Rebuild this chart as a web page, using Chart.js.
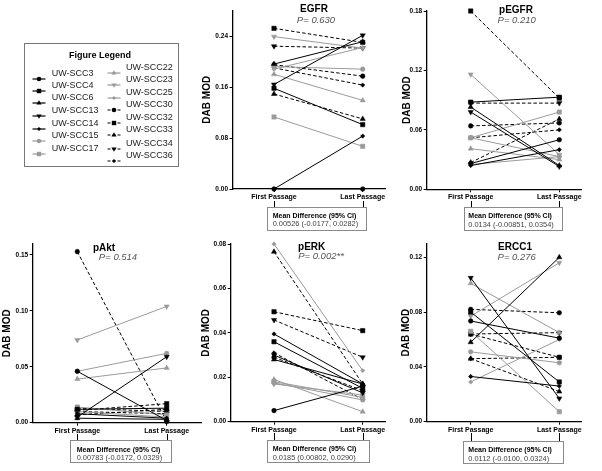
<!DOCTYPE html>
<html><head><meta charset="utf-8">
<script src="https://cdn.jsdelivr.net/npm/chart.js@4.4.1/dist/chart.umd.min.js"></script>
<style>
body{margin:0;width:602px;height:471px;background:#fff;position:relative;overflow:hidden;font-family:"Liberation Sans",Arial,sans-serif;color:#000;}
.panel{position:absolute;}
.txt{filter:grayscale(1);}
.ttl{position:absolute;font-weight:bold;font-size:10px;transform:translate(-50%,-50%);white-space:nowrap;line-height:1;}
.pv{position:absolute;font-style:italic;font-size:9.5px;color:#555;transform:translate(-50%,-50%);white-space:nowrap;line-height:1;}
.box{position:absolute;border:1px solid #8a8a8a;box-sizing:border-box;background:#fff;}
.bl1{position:absolute;font-weight:bold;font-size:7px;white-space:nowrap;line-height:1;transform:translateY(-50%);}
.bl2{position:absolute;font-size:7.4px;color:#444;white-space:nowrap;line-height:1;transform:translateY(-50%);}
.conn{position:absolute;width:1px;background:#000;}
.leg{position:absolute;border:1px solid #777;box-sizing:border-box;}
.legt{position:absolute;font-weight:bold;font-size:9px;transform:translate(-50%,-50%);white-space:nowrap;line-height:1;}
.legi{position:absolute;font-size:9px;color:#222;white-space:nowrap;line-height:1;transform:translateY(-50%);}
.legs{position:absolute;}
</style>
</head><body>
<script>
// ---------- DATA ----------
const cellLines = ['UW-SCC3','UW-SCC4','UW-SCC6','UW-SCC13','UW-SCC14','UW-SCC15','UW-SCC17','UW-SCC22','UW-SCC23','UW-SCC25','UW-SCC30','UW-SCC32','UW-SCC33','UW-SCC34','UW-SCC36'];
const passages = ['First Passage','Last Passage'];

const egfrFirst  = [0.000,0.158,0.196,0.164,0.000,0.192,0.113,0.180,0.239,0.188,0.195,0.252,0.149,0.224,0.190];
const egfrLast   = [0.000,0.101,0.231,0.241,0.083,0.188,0.067,0.139,0.221,0.222,0.177,0.230,0.110,0.221,0.163];

const pegfrFirst = [0.026,0.088,0.083,0.078,0.024,0.052,0.052,0.041,0.116,0.025,0.064,0.180,0.027,0.087,0.052];
const pegfrLast  = [0.050,0.093,0.024,0.023,0.040,0.033,0.078,0.030,0.035,0.033,0.067,0.092,0.071,0.087,0.060];

const paktFirst  = [0.046,0.012,0.004,0.005,0.008,0.046,0.014,0.039,0.074,0.010,0.153,0.011,0.007,0.010,0.013];
const paktLast   = [0.002,0.013,0.003,0.059,0.004,0.062,0.007,0.049,0.104,0.005,0.001,0.017,0.012,0.008,0.010];

const perkFirst  = [0.005,0.036,0.028,0.030,0.0395,0.0175,0.018,0.019,0.017,0.080,0.029,0.0495,0.0765,0.0458,0.031];
const perkLast   = [0.016,0.015,0.017,0.013,0.017,0.0098,0.011,0.0045,0.012,0.023,0.014,0.041,0.017,0.029,0.010];

const ercc1First = [0.0735,0.080,0.058,0.105,0.033,0.051,0.066,0.101,0.077,0.029,0.082,0.064,0.046,0.064,0.046];
const ercc1Last  = [0.061,0.029,0.120,0.017,0.026,0.043,0.0073,0.065,0.116,0.060,0.0795,0.047,0.022,0.065,0.047];

const panelTitles = ['EGFR','pEGFR','pAkt','pERK','ERCC1'];
const pValues = ['P= 0.630','P= 0.210','P= 0.514','P= 0.002**','P= 0.276'];
const meanDiffHeader = 'Mean Difference (95% CI)';
const meanDiffValues = ['0.00526 (-0.0177, 0.0282)','0.0134 (-0.00851, 0.0354)','0.00783 (-0.0172, 0.0329)','0.0185 (0.00802, 0.0290)','0.0112 (-0.0100, 0.0324)'];
const yAxisTitle = 'DAB MOD';
const legendTitle = 'Figure Legend';
const yMax  = [0.28,0.18,0.16,0.08,0.13];
const yStep = [0.08,0.06,0.05,0.02,0.04];

// ---------- STYLES ----------
const BLACK='#000000', GRAY='#9a9a9a';
const seriesGray   = [0,0,0,0,0,1,1,1,1,1,0,0,0,0,0];
const seriesDashed = [0,0,0,0,0,0,0,0,0,0,1,1,1,1,1];
const shapes = ['circle','square','tri','triDown','diamond'];
const shapeOf = i => shapes[i%5];
const chartPoint = {
  circle:{pointStyle:'circle',radius:2.3,rot:0},
  square:{pointStyle:'rect',radius:3.1,rot:0},
  tri:{pointStyle:'triangle',radius:3,rot:0},
  triDown:{pointStyle:'triangle',radius:3,rot:180},
  diamond:{pointStyle:'rectRot',radius:2.2,rot:0}
};

// ---------- LAYOUT ----------
const layouts = [
  {L:196,T:0,W:200,H:206, axisX:232.5, topY:10.5, bottomY:189, rightX:385, firstX:274, lastX:362.7, titlePad:5,
   title:[314,8.5], pv:[316,20.3], box:[266.5,206.7,100.2,24], textLeft:272.7},
  {L:396,T:0,W:206,H:206, axisX:426.7, topY:11, bottomY:189.3, rightX:581.7, firstX:470.7, lastX:559.3, titlePad:5,
   title:[516,10], pv:[516.7,20.3], box:[464,207,99.3,24], textLeft:468.3},
  {L:0,T:235,W:212,H:205, axisX:32.7, topY:243.8, bottomY:422.7, rightX:201.5, firstX:77.3, lastX:166.7, titlePad:1.3,
   title:[104,247.5], pv:[118,257], box:[70,440.3,101.7,23], textLeft:76.7},
  {L:196,T:235,W:200,H:205, axisX:230.7, topY:244, bottomY:421.7, rightX:385, firstX:274, lastX:362.7, titlePad:4.7,
   title:[311.7,246.7], pv:[321,255.5], box:[266.7,440,103.3,22.7], textLeft:272.7},
  {L:396,T:235,W:206,H:205, axisX:426.7, topY:243.6, bottomY:421.7, rightX:581.7, firstX:470.7, lastX:559.3, titlePad:4.7,
   title:[515,247.3], pv:[516.7,256.7], box:[463.3,441,100.7,23], textLeft:468.3}
];
const panelData = [[egfrFirst,egfrLast],[pegfrFirst,pegfrLast],[paktFirst,paktLast],[perkFirst,perkLast],[ercc1First,ercc1Last]];

Chart.defaults.font.family = '"Liberation Sans", Arial, sans-serif';

function el(cls, css, text){
  const d=document.createElement('div'); d.className=cls;
  Object.assign(d.style, css); if(text!==undefined) d.textContent=text;
  document.body.appendChild(d); return d;
}

function makePanel(idx){
  const p = layouts[idx];
  const [first,last] = panelData[idx];
  const wrap = el('panel',{left:p.L+'px',top:p.T+'px',width:p.W+'px',height:p.H+'px'});
  const cv = document.createElement('canvas'); wrap.appendChild(cv);
  const k = p.lastX - p.firstX;
  const xmin = -(p.firstX - p.axisX)/k, xmax = 1 + (p.rightX - p.lastX)/k;
  const step = yStep[idx], ymax = yMax[idx];
  const datasets = cellLines.map((name,i)=>{
    const c = seriesGray[i]?GRAY:BLACK; const pt = chartPoint[shapeOf(i)];
    return {label:name, data:[{x:0,y:first[i]},{x:1,y:last[i]}],
      borderColor:c, backgroundColor:c, pointBackgroundColor:c, pointBorderColor:c, pointBorderWidth:0.5,
      borderWidth:1, borderDash: seriesDashed[i]?[3.5,2.2]:[], showLine:true, clip:false,
      pointStyle:pt.pointStyle, pointRadius:pt.radius, pointRotation:pt.rot, pointHoverRadius:pt.radius};
  });
  const gridOpt = {display:true, drawOnChartArea:false, drawTicks:true, tickLength:3, color:'#000', lineWidth:1};
  new Chart(cv,{type:'scatter', data:{datasets}, options:{
    responsive:true, maintainAspectRatio:false, animation:false, devicePixelRatio:1,
    layout:{padding:{left:0, right:p.L+p.W-p.rightX, top:p.topY-p.T, bottom:0}},
    plugins:{legend:{display:false}, tooltip:{enabled:false}},
    scales:{
      x:{type:'linear', min:xmin, max:xmax,
        afterFit:s=>{s.height = p.T+p.H-p.bottomY;},
        afterBuildTicks:s=>{s.ticks=[{value:0},{value:1}];},
        ticks:{callback:(v,i)=>passages[i], font:{size:7,weight:'bold'}, color:'#000', padding:1, maxRotation:0, autoSkip:false},
        grid:gridOpt, border:{display:true,color:'#000',width:1.3}},
      y:{type:'linear', min:0, max:ymax,
        afterFit:s=>{s.width = p.axisX-p.L;},
        afterBuildTicks:s=>{const t=[]; for(let j=0;j*step<=ymax+1e-9;j++) t.push({value:Math.round(j*step*1e6)/1e6}); s.ticks=t;},
        ticks:{callback:v=>Number(v).toFixed(2), font:{size:6.5,weight:'bold'}, color:'#000', padding:1.5},
        grid:gridOpt, border:{display:true,color:'#000',width:1.3},
        title:{display:true, text:yAxisTitle, font:{size:10,weight:'bold'}, color:'#000', padding:{top:p.titlePad,bottom:0}}}
    }
  }});
  el('ttl txt',{left:p.title[0]+'px',top:p.title[1]+'px'},panelTitles[idx]);
  el('pv txt',{left:p.pv[0]+'px',top:p.pv[1]+'px'},pValues[idx]);
  const [bx,by,bw,bh] = p.box;
  [p.firstX,p.lastX].forEach(x=>el('conn',{left:(Math.round(x)-0.5)+'px',top:(p.bottomY+11.5)+'px',height:(by-p.bottomY-10.5)+'px'}));
  el('box',{left:bx+'px',top:by+'px',width:bw+'px',height:bh+'px'});
  el('bl1 txt',{left:p.textLeft+'px',top:(by+8.3)+'px'},meanDiffHeader);
  el('bl2 txt',{left:p.textLeft+'px',top:(by+17.5)+'px'},meanDiffValues[idx]);
}
for(let i=0;i<5;i++) makePanel(i);

// ---------- LEGEND ----------
el('leg',{left:'24px',top:'43.3px',width:'155px',height:'124px'});
el('legt txt',{left:'100px',top:'54.5px'},legendTitle);
const legLeftY = [72.7,85,97.3,110,122.7,135.3,148];
const legRightY = [66.7,79.3,91.7,104,116.7,129.3,142.7,155.3];
function markerSVG(shape,c){
  const cx=7, cy=4;
  switch(shape){
    case 'circle': return `<circle cx="${cx}" cy="${cy}" r="2.3" fill="${c}"/>`;
    case 'square': return `<rect x="${cx-2.2}" y="${cy-2.2}" width="4.4" height="4.4" fill="${c}"/>`;
    case 'tri': return `<polygon points="${cx},${cy-2.8} ${cx+2.6},${cy+1.6} ${cx-2.6},${cy+1.6}" fill="${c}"/>`;
    case 'triDown': return `<polygon points="${cx},${cy+2.8} ${cx+2.6},${cy-1.6} ${cx-2.6},${cy-1.6}" fill="${c}"/>`;
    default: return `<polygon points="${cx},${cy-2} ${cx+2},${cy} ${cx},${cy+2} ${cx-2},${cy}" fill="${c}"/>`;
  }
}
cellLines.forEach((name,i)=>{
  const left = i<7;
  const y = left ? legLeftY[i] : legRightY[i-7];
  const sx = left ? 31.5 : 107;
  const tx = left ? 51.7 : 126;
  const c = seriesGray[i]?GRAY:BLACK;
  const dash = seriesDashed[i] ? 'stroke-dasharray="3,2"' : '';
  const s = document.createElement('div'); s.className='legs';
  Object.assign(s.style,{left:sx+'px',top:(y-4)+'px',width:'14px',height:'8px'});
  s.innerHTML = `<svg width="14" height="8" xmlns="http://www.w3.org/2000/svg"><line x1="0.5" y1="4" x2="13.5" y2="4" stroke="${c}" stroke-width="1.2" ${dash}/>${markerSVG(shapeOf(i),c)}</svg>`;
  document.body.appendChild(s);
  el('legi txt',{left:tx+'px',top:y+'px'},name);
});
</script>
</body></html>
